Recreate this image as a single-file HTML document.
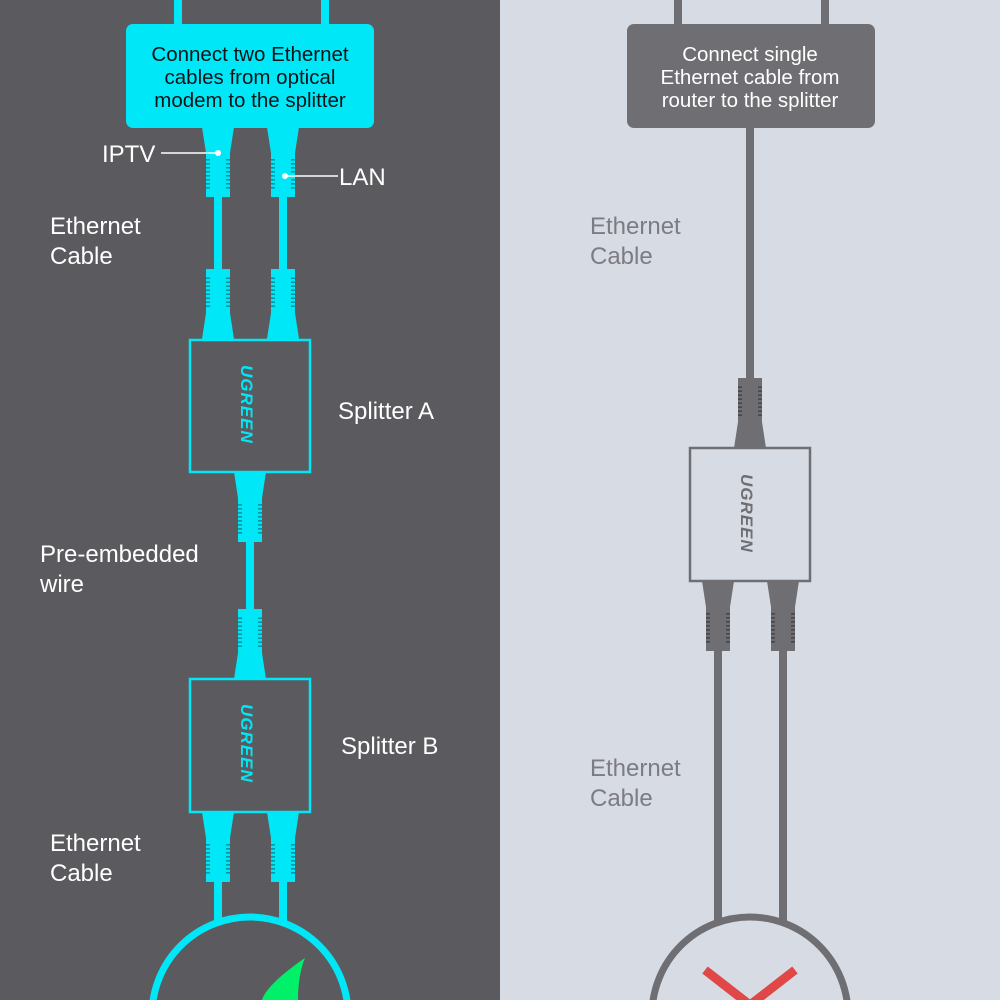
<!DOCTYPE html>
<html><head><meta charset="utf-8"><style>
html,body{margin:0;padding:0;width:1000px;height:1000px;overflow:hidden}
svg{display:block}
text{font-family:"Liberation Sans",sans-serif}
</style></head><body>
<svg width="1000" height="1000" viewBox="0 0 1000 1000" xmlns="http://www.w3.org/2000/svg">
<defs>
<clipPath id="c"><rect x="0" y="0" width="1000" height="1000"/></clipPath>
<g id="plug">
<polygon points="-16,0 16,0 12,26 12,70 -12,70 -12,26"/>
<g fill="rgba(0,0,0,0.35)">
<rect x="-12" y="32" width="4" height="1.6"/><rect x="-12" y="36" width="4" height="1.6"/><rect x="-12" y="40" width="4" height="1.6"/><rect x="-12" y="44" width="4" height="1.6"/><rect x="-12" y="48" width="4" height="1.6"/><rect x="-12" y="52" width="4" height="1.6"/><rect x="-12" y="56" width="4" height="1.6"/><rect x="-12" y="60" width="4" height="1.6"/>
<rect x="8" y="32" width="4" height="1.6"/><rect x="8" y="36" width="4" height="1.6"/><rect x="8" y="40" width="4" height="1.6"/><rect x="8" y="44" width="4" height="1.6"/><rect x="8" y="48" width="4" height="1.6"/><rect x="8" y="52" width="4" height="1.6"/><rect x="8" y="56" width="4" height="1.6"/><rect x="8" y="60" width="4" height="1.6"/>
</g>
</g>
</defs>
<g clip-path="url(#c)">
<rect x="0" y="0" width="500" height="1000" fill="#5b5b5f"/>
<rect x="500" y="0" width="500" height="1000" fill="#d7dce4"/>

<!-- LEFT -->
<g fill="#00e8f7">
<rect x="174" y="0" width="8" height="30"/><rect x="321" y="0" width="8" height="30"/>
<rect x="126" y="24" width="248" height="104" rx="7"/>
<use href="#plug" transform="translate(218,127)"/>
<use href="#plug" transform="translate(283,127)"/>
<rect x="214" y="195" width="8" height="75"/><rect x="279" y="195" width="8" height="75"/>
<use href="#plug" transform="translate(218,339) scale(1,-1)"/>
<use href="#plug" transform="translate(283,339) scale(1,-1)"/>
<use href="#plug" transform="translate(250,472)"/>
<rect x="246" y="540" width="8" height="72"/>
<use href="#plug" transform="translate(250,679) scale(1,-1)"/>
<use href="#plug" transform="translate(218,812)"/>
<use href="#plug" transform="translate(283,812)"/>
<rect x="214" y="880" width="8" height="45"/><rect x="279" y="880" width="8" height="45"/>
</g>
<rect x="190" y="340" width="120" height="132" fill="none" stroke="#00e8f7" stroke-width="2.5"/>
<rect x="190" y="679" width="120" height="133" fill="none" stroke="#00e8f7" stroke-width="2.5"/>
<text transform="translate(241,365) rotate(90)" font-size="17" font-weight="bold" font-style="italic" fill="#00e8f7" letter-spacing="1">UGREEN</text>
<text transform="translate(241,704) rotate(90)" font-size="17" font-weight="bold" font-style="italic" fill="#00e8f7" letter-spacing="1">UGREEN</text>
<circle cx="250" cy="1015" r="98" fill="none" stroke="#00e8f7" stroke-width="7"/>
<path d="M305,958 C280,975 265,990 262,1000 L298,1000 C298,985 300,970 305,958Z" fill="#00f06a"/>
<g font-size="20.5" fill="#101418" text-anchor="middle">
<text x="250" y="61">Connect two Ethernet</text>
<text x="250" y="84">cables from optical</text>
<text x="250" y="107">modem to the splitter</text>
</g>
<g fill="#fff" font-size="24">
<text x="102" y="162">IPTV</text>
<text x="339" y="185">LAN</text>
<text x="50" y="234">Ethernet</text><text x="50" y="264">Cable</text>
<text x="338" y="419">Splitter A</text>
<text x="40" y="562">Pre-embedded</text><text x="40" y="592">wire</text>
<text x="341" y="754">Splitter B</text>
<text x="50" y="851">Ethernet</text><text x="50" y="881">Cable</text>
</g>
<line x1="161" y1="153" x2="217" y2="153" stroke="#fff" stroke-width="1.5"/>
<circle cx="218" cy="153" r="3" fill="#fff"/>
<line x1="285" y1="176" x2="338" y2="176" stroke="#fff" stroke-width="1.5"/>
<circle cx="285" cy="176" r="3" fill="#fff"/>

<!-- RIGHT -->
<g fill="#6e6e73">
<rect x="674" y="0" width="8" height="30"/><rect x="821" y="0" width="8" height="30"/>
<rect x="627" y="24" width="248" height="104" rx="7"/>
<rect x="746" y="127" width="8" height="255"/>
<use href="#plug" transform="translate(750,448) scale(1,-1)"/>
<use href="#plug" transform="translate(718,581)"/>
<use href="#plug" transform="translate(783,581)"/>
<rect x="714" y="648" width="8" height="277"/><rect x="779" y="648" width="8" height="277"/>
</g>
<rect x="690" y="448" width="120" height="133" fill="none" stroke="#6e6e73" stroke-width="2.5"/>
<text transform="translate(741,474) rotate(90)" font-size="17" font-weight="bold" font-style="italic" fill="#6e6e73" letter-spacing="1">UGREEN</text>
<circle cx="750" cy="1015" r="98" fill="none" stroke="#6e6e73" stroke-width="7"/>
<path d="M705,970 L750,1005 L795,970" fill="none" stroke="#e04848" stroke-width="9"/>
<g font-size="20.5" fill="#fff" text-anchor="middle">
<text x="750" y="61">Connect single</text>
<text x="750" y="84">Ethernet cable from</text>
<text x="750" y="107">router to the splitter</text>
</g>
<g fill="#7c7c82" font-size="24">
<text x="590" y="234">Ethernet</text><text x="590" y="264">Cable</text>
<text x="590" y="776">Ethernet</text><text x="590" y="806">Cable</text>
</g>
</g>
</svg>
</body></html>
